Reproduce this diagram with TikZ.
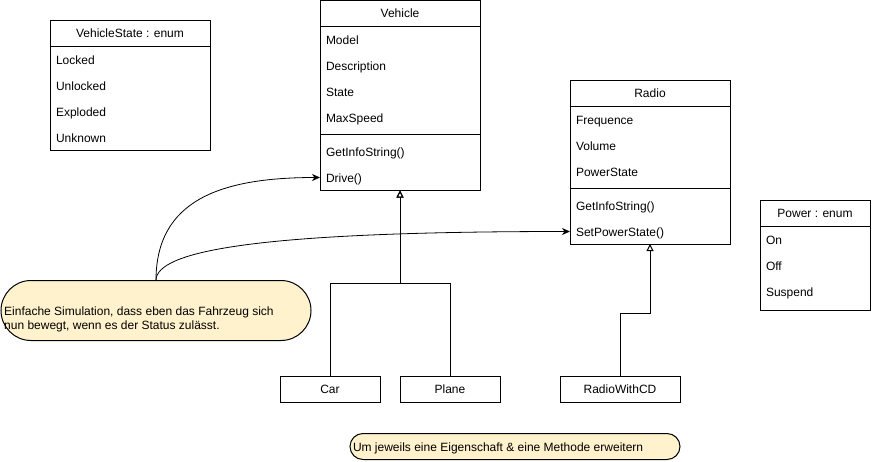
\documentclass[tikz,border=0pt]{standalone}
\usepackage{fontspec}
\setmainfont{Liberation Sans}
\usetikzlibrary{arrows.meta}
\definecolor{notefill}{HTML}{FFF2CC}
\tikzset{
  umlbox/.style={draw, line width=1pt, outer sep=0pt, inner sep=0pt, anchor=north west},
  headtxt/.style={font=\fontsize{12}{14}\selectfont, inner sep=0pt, text height=10pt, text depth=2pt},
  itemtxt/.style={font=\fontsize{12}{14}\selectfont, anchor=west, inner xsep=6pt, inner ysep=0pt, outer sep=0pt, text height=11pt, text depth=1pt},
  notebox/.style={draw, line width=1pt, fill=notefill, outer sep=0pt, inner sep=0pt, anchor=north west},
  notetxt/.style={font=\fontsize{12}{14}\selectfont, anchor=base west, inner sep=0pt, align=left},
  inherit/.style={line width=1pt, -{Triangle[open, length=7pt, width=7pt]}},
  assoc/.style={line width=0.8pt, -{Stealth[length=8pt, width=7pt, inset=2.5pt]}},
}
\begin{document}
\begin{tikzpicture}[x=1pt, y=-1pt]
\useasboundingbox (0,0) rectangle (881,461);

% VehicleState enum
\node[umlbox, minimum width=160pt, minimum height=130pt] (vstate) at (50,20) {};
\node[headtxt] (vstatehead) at (130,33) {VehicleState : enum};
\draw[line width=1pt] (50,46) -- (210,46);
\node[itemtxt] (locked) at (50,59.5) {Locked};
\node[itemtxt] (unlocked) at (50,85.5) {Unlocked};
\node[itemtxt] (exploded) at (50,111.5) {Exploded};
\node[itemtxt] (unknown) at (50,137.5) {Unknown};

% Vehicle class
\node[umlbox, minimum width=160pt, minimum height=190pt] (vehicle) at (320,0.5) {};
\node[headtxt] (vehiclehead) at (400,13.5) {Vehicle};
\draw[line width=1pt] (320,26) -- (480,26);
\node[itemtxt] (model) at (320,39.5) {Model};
\node[itemtxt] (descr) at (320,65.5) {Description};
\node[itemtxt] (state) at (320,91.5) {State};
\node[itemtxt] (maxspeed) at (320,117.5) {MaxSpeed};
\draw[line width=1pt] (320,134) -- (480,134);
\node[itemtxt] (vinfo) at (320,151.5) {GetInfoString()};
\node[itemtxt] (drive) at (320,177.5) {Drive()};

% Radio class
\node[umlbox, minimum width=160pt, minimum height=164pt] (radio) at (570,80) {};
\node[headtxt] (radiohead) at (650,93) {Radio};
\draw[line width=1pt] (570,106) -- (730,106);
\node[itemtxt] (freq) at (570,119.5) {Frequence};
\node[itemtxt] (volume) at (570,145.5) {Volume};
\node[itemtxt] (pstate) at (570,171.5) {PowerState};
\draw[line width=1pt] (570,188) -- (730,188);
\node[itemtxt] (rinfo) at (570,205.5) {GetInfoString()};
\node[itemtxt] (setpower) at (570,231.5) {SetPowerState()};

% Power enum
\node[umlbox, minimum width=110pt, minimum height=110pt] (power) at (760,200) {};
\node[headtxt] (powerhead) at (815,213) {Power : enum};
\draw[line width=1pt] (760,226) -- (870,226);
\node[itemtxt] (pon) at (760,239.5) {On};
\node[itemtxt] (poff) at (760,265.5) {Off};
\node[itemtxt] (psusp) at (760,291.5) {Suspend};

% subclasses
\node[umlbox, minimum width=100pt, minimum height=26pt] (car) at (280,376.5) {};
\node[headtxt] (cartxt) at (car.center) {Car};
\node[umlbox, minimum width=100pt, minimum height=26pt] (plane) at (400,376.5) {};
\node[headtxt] (planetxt) at (plane.center) {Plane};
\node[umlbox, minimum width=120pt, minimum height=26pt] (radiocd) at (560,376.5) {};
\node[headtxt] (radiocdtxt) at (radiocd.center) {RadioWithCD};

% inheritance
\coordinate (vjoin) at (400,283.5);
\draw[inherit] (car.north) |- (vjoin) -- (vehicle.south);
\draw[inherit] (plane.north) |- (vjoin) -- (vehicle.south);
\coordinate (rbend) at (620,313.5);
\draw[inherit] (radiocd.north) -- (rbend) -| (radio.south);

% notes
\node[notebox, minimum width=310pt, minimum height=60pt, rounded corners=30pt] (simnote) at (1,280.5) {};
\node[notetxt] (simtxt) at (4,329) {Einfache Simulation, dass eben das Fahrzeug sich\\nun bewegt, wenn es der Status zulässt.};
\node[notebox, minimum width=330pt, minimum height=26pt, rounded corners=13pt] (extnote) at (350,433.5) {};
\node[itemtxt, inner xsep=0pt] (exttxt) at (353,446) {Um jeweils eine Eigenschaft \& eine Methode erweitern};

% links from the note
\draw[assoc] (simnote.north) .. controls +(0,-80) and +(-100,0) .. (drive.west);
\draw[assoc] (simnote.north) .. controls +(0,-30) and +(-310,0) .. (setpower.west);
\end{tikzpicture}
\end{document}
